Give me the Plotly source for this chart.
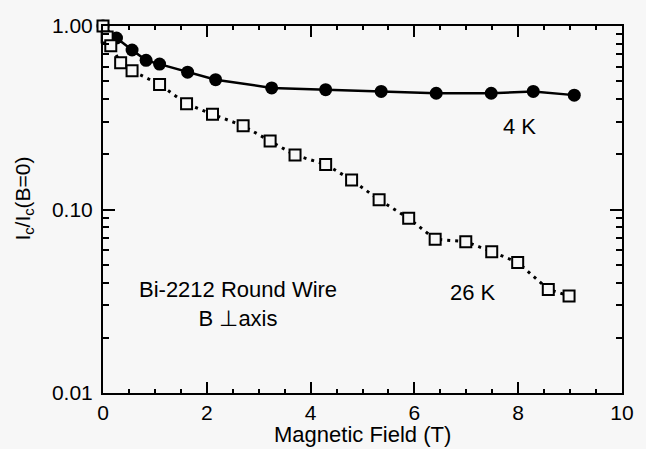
import plotly.graph_objects as go

# 4 K data (filled circles, solid line)
field_4k = [0.0, 0.26, 0.56, 0.83, 1.09, 1.63, 2.17, 3.25, 4.29, 5.36, 6.42, 7.48, 8.29, 9.08]
ratio_4k = [1.0, 0.86, 0.74, 0.65, 0.62, 0.56, 0.51, 0.46, 0.45, 0.44, 0.43, 0.43, 0.44, 0.42]

# 26 K data (open squares, dotted line)
field_26k = [0.0, 0.08, 0.15, 0.34, 0.56, 1.09, 1.61, 2.11, 2.70, 3.22, 3.70, 4.29, 4.79,
             5.32, 5.89, 6.40, 6.99, 7.49, 7.99, 8.58, 8.98]
ratio_26k = [1.0, 0.87, 0.78, 0.63, 0.57, 0.48, 0.377, 0.33, 0.286, 0.236, 0.198, 0.176, 0.145,
             0.113, 0.0895, 0.0688, 0.0668, 0.0589, 0.0515, 0.0367, 0.0338]

x_ticks = [0, 2, 4, 6, 8, 10]
x_ticklabels = ["0", "2", "4", "6", "8", "10"]
y_ticks = [0.01, 0.1, 1.0]
y_ticklabels = ["0.01", "0.10", "1.00"]

BG = "#f7f7f7"
FONT = "Liberation Sans, Arial, sans-serif"

fig = go.Figure()
fig.add_trace(go.Scatter(
    x=field_4k, y=ratio_4k, mode="lines+markers",
    line=dict(color="black", width=2.5),
    marker=dict(symbol="circle", size=13, color="black"),
    showlegend=False, cliponaxis=False))
fig.add_trace(go.Scatter(
    x=field_26k, y=ratio_26k, mode="lines+markers",
    line=dict(color="black", width=3, dash="3px,5px"),
    marker=dict(symbol="square", size=11, color=BG, line=dict(color="black", width=2)),
    showlegend=False, cliponaxis=False))
# invisible trace to carry the mirrored (top/right) tick axes
fig.add_trace(go.Scatter(x=[field_4k[0]], y=[ratio_4k[0]], xaxis="x2", yaxis="y2",
                         mode="markers", marker=dict(opacity=0), showlegend=False,
                         hoverinfo="skip"))

common = dict(showgrid=False, zeroline=False, tickcolor="black", tickwidth=2)

fig.update_layout(
    width=646, height=449,
    margin=dict(l=103, r=24, t=26, b=56),
    paper_bgcolor=BG, plot_bgcolor=BG,
    font=dict(family=FONT, size=21, color="black"),
    xaxis=dict(range=[0, 10], tickvals=x_ticks, ticktext=x_ticklabels,
               ticks="inside", ticklen=11,
               showline=True, linecolor="black", linewidth=2, mirror=True,
               minor=dict(dtick=0.5, ticks="inside", ticklen=4, tickwidth=2, tickcolor="black", showgrid=False),
               tickfont=dict(size=21), ticklabelstandoff=0, **common),
    yaxis=dict(type="log", range=[-2, 0], tickvals=y_ticks, ticktext=y_ticklabels,
               ticks="inside", ticklen=12,
               showline=True, linecolor="black", linewidth=2, mirror=True,
               minor=dict(dtick="D1", ticks="inside", ticklen=6, tickwidth=2, tickcolor="black", showgrid=False),
               tickfont=dict(size=21), ticklabelstandoff=4, **common),
    xaxis2=dict(range=[0, 10], tickvals=x_ticks, overlaying="x", side="top", anchor="y",
                ticks="inside", ticklen=11, showticklabels=False, showline=False,
                minor=dict(dtick=0.5, ticks="inside", ticklen=4, tickwidth=2, tickcolor="black", showgrid=False),
                **common),
    yaxis2=dict(type="log", range=[-2, 0], tickvals=y_ticks, overlaying="y", side="right", anchor="x",
                ticks="inside", ticklen=12, showticklabels=False, showline=False,
                minor=dict(dtick="D1", ticks="inside", ticklen=6, tickwidth=2, tickcolor="black", showgrid=False),
                **common),
)

annotations = [
    dict(text="Magnetic Field (T)", x=0.5, y=-0.114, xref="paper", yref="paper",
         xanchor="center", yanchor="middle", font=dict(size=22)),
    dict(text="I<sub>c</sub>/I<sub>c</sub>(B=0)", x=-0.152, y=0.53, xref="paper", yref="paper",
         xanchor="center", yanchor="middle", textangle=-90, font=dict(size=21)),
    dict(text="4 K", x=8.03, y=-0.55, xref="x", yref="y", font=dict(size=22)),
    dict(text="26 K", x=7.13, y=-1.45, xref="x", yref="y", font=dict(size=22)),
    dict(text="Bi-2212 Round Wire<br>B \u22a5axis", x=2.6, y=-1.515, xref="x", yref="y",
         align="center", font=dict(size=22)),
]
for a in annotations:
    a["showarrow"] = False
    fig.add_annotation(**a)

fig.write_html("out.html")
